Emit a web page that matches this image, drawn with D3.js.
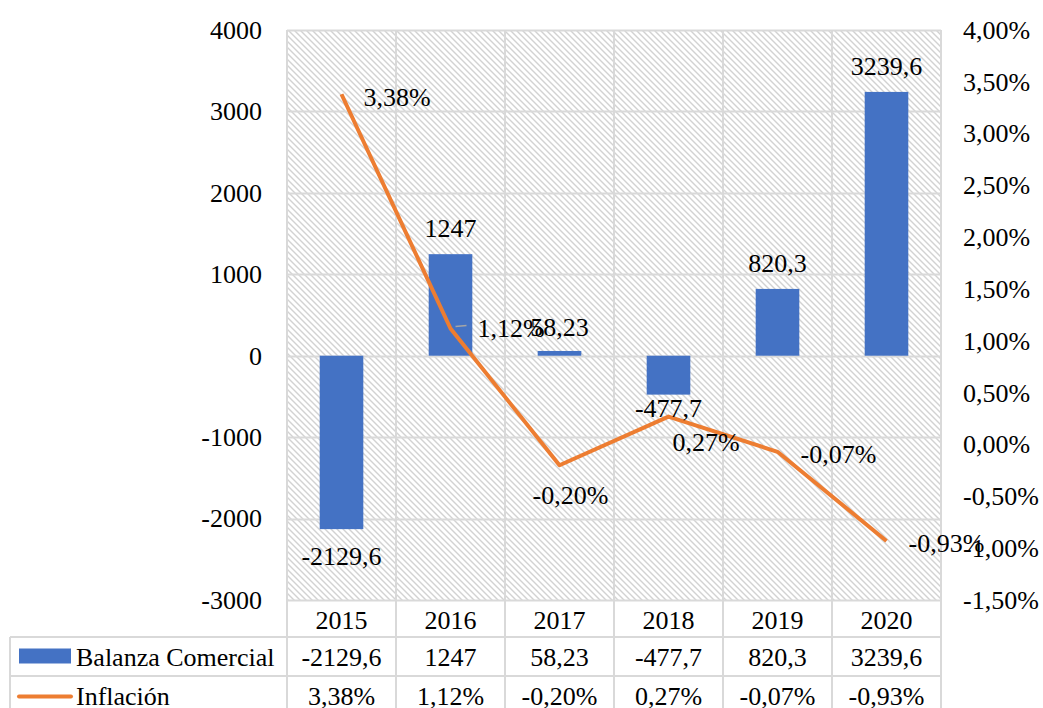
<!DOCTYPE html>
<html>
<head>
<meta charset="utf-8">
<script src="https://cdn.jsdelivr.net/npm/d3@7"></script>
<style>
  html, body { margin: 0; padding: 0; background: #fff; }
  svg { display: block; }
  svg text { font-family: "Liberation Serif", "Times New Roman", serif; fill: #000; }
</style>
</head>
<body>
<svg id="chart" width="1043" height="708"></svg>
<script>
// ---- data ----
const categories = ["2015", "2016", "2017", "2018", "2019", "2020"];
const balanza = [-2129.6, 1247, 58.23, -477.7, 820.3, 3239.6];
const inflacion = [0.0338, 0.0112, -0.0020, 0.0027, -0.0007, -0.0093];
const leftTicks = [-3000, -2000, -1000, 0, 1000, 2000, 3000, 4000];
const rightTicks = [-0.015, -0.01, -0.005, 0, 0.005, 0.01, 0.015, 0.02, 0.025, 0.03, 0.035, 0.04];
const seriesNames = ["Balanza Comercial", "Inflación"];

// ---- layout ----
const W = 1043, H = 708;
const plot = { left: 287, right: 941, top: 30, bottom: 600 };
const tableLeft = 10, headerBottom = 637, rowH = 39;
const barColor = "#4472C4", lineColor = "#ED7D31", gridColor = "#d9d9d9";
const fontSize = 26;
const FONT = "Liberation Serif";

const locale = d3.formatLocale({ decimal: ",", thousands: ".", grouping: [3], currency: ["", ""], minus: "-" });
const fmtPct = locale.format(".2%");
const fmtInt = locale.format("d");
const fmtNum = v => String(v).replace(".", ",");

const svg = d3.select("#chart");

const x = d3.scaleBand().domain(categories).range([plot.left, plot.right]).paddingInner(0).paddingOuter(0);
const yL = d3.scaleLinear().domain([-3000, 4000]).range([plot.bottom, plot.top]);
const yR = d3.scaleLinear().domain([-0.015, 0.04]).range([plot.bottom, plot.top]);

// hatch pattern
const defs = svg.append("defs");
const pat = defs.append("pattern").attr("id", "hatch").attr("patternUnits", "userSpaceOnUse")
  .attr("width", 6).attr("height", 6);
pat.append("rect").attr("width", 6).attr("height", 6).attr("fill", "#fff");
pat.append("path").attr("d", "M0,0 L6,6 M-3,3 L3,9 M3,-3 L9,3")
  .attr("stroke", "#d2d2d2").attr("stroke-width", 1.4);

// plot background
svg.append("rect").attr("x", plot.left).attr("y", plot.top)
  .attr("width", plot.right - plot.left).attr("height", plot.bottom - plot.top)
  .attr("fill", "url(#hatch)");

// gridlines
const g = svg.append("g");
g.selectAll("line.h").data(leftTicks).join("line")
  .attr("x1", plot.left).attr("x2", plot.right)
  .attr("y1", d => Math.round(yL(d)) + 0.5).attr("y2", d => Math.round(yL(d)) + 0.5)
  .attr("stroke", gridColor).attr("stroke-width", 2);
const boundaries = categories.map(c => x(c)).concat([plot.right]);
g.selectAll("line.v").data(boundaries).join("line")
  .attr("x1", d => d).attr("x2", d => d)
  .attr("y1", plot.top).attr("y2", headerBottom + 2 * rowH + 10)
  .attr("stroke", gridColor).attr("stroke-width", 2);

// bars
const bw = x.bandwidth() * 0.4;
svg.selectAll("rect.bar").data(balanza).join("rect")
  .attr("class", "bar")
  .attr("x", (d, i) => x(categories[i]) + x.bandwidth() / 2 - bw / 2)
  .attr("width", bw)
  .attr("y", d => yL(Math.max(0, d)))
  .attr("height", d => Math.abs(yL(d) - yL(0)))
  .attr("fill", barColor);

// line
const cx = i => x(categories[i]) + x.bandwidth() / 2;
svg.append("path").datum(inflacion)
  .attr("d", d3.line().x((d, i) => cx(i)).y(d => yR(d)))
  .attr("fill", "none").attr("stroke", lineColor).attr("stroke-width", 4)
  .attr("stroke-linejoin", "round");

// axes
const axL = svg.append("g").attr("transform", `translate(${plot.left},0)`)
  .call(d3.axisLeft(yL).tickValues(leftTicks).tickSize(0).tickPadding(25).tickFormat(fmtInt));
axL.select(".domain").remove();
axL.attr("font-family", FONT).attr("font-size", fontSize);
axL.selectAll("text").attr("font-size", fontSize).attr("font-family", FONT).attr("fill", "#000");

const axR = svg.append("g").attr("transform", `translate(${plot.right},0)`)
  .call(d3.axisRight(yR).tickValues(rightTicks).tickSize(0).tickPadding(22).tickFormat(fmtPct));
axR.select(".domain").remove();
axR.attr("font-family", FONT).attr("font-size", fontSize);
axR.selectAll("text").attr("font-size", fontSize).attr("font-family", FONT).attr("fill", "#000");

// bar data labels
const barLabelDy = [27, -26, -24, 13, -26, -26];
svg.selectAll("text.bl").data(balanza).join("text")
  .attr("x", (d, i) => cx(i))
  .attr("y", (d, i) => yL(d) + barLabelDy[i])
  .attr("dy", "0.35em").attr("text-anchor", "middle")
  .attr("font-family", FONT).attr("font-size", fontSize).text(d => fmtNum(d));

// leader line for 2016 inflation label
svg.append("line").attr("x1", cx(1) + 5).attr("x2", cx(1) + 16)
  .attr("y1", yR(inflacion[1]) - 2).attr("y2", yR(inflacion[1]) - 3)
  .attr("stroke", "#a6a6a6").attr("stroke-width", 1.5);

// line data labels
const lineLabelDx = [22, 27, -27, 4, 23, 22];
const lineLabelDy = [3, -1, 30, 25, 2, 2];
svg.selectAll("text.ll").data(inflacion).join("text")
  .attr("x", (d, i) => cx(i) + lineLabelDx[i])
  .attr("y", (d, i) => yR(d) + lineLabelDy[i])
  .attr("dy", "0.35em").attr("text-anchor", "start")
  .attr("font-family", FONT).attr("font-size", fontSize).text(d => fmtPct(d));

// data table
const tb = svg.append("g").attr("font-family", FONT).attr("font-size", fontSize);
tb.append("line").attr("x1", tableLeft).attr("x2", plot.right)
  .attr("y1", headerBottom).attr("y2", headerBottom).attr("stroke", gridColor).attr("stroke-width", 2);
tb.append("line").attr("x1", tableLeft).attr("x2", plot.right)
  .attr("y1", headerBottom + rowH).attr("y2", headerBottom + rowH).attr("stroke", gridColor).attr("stroke-width", 2);
tb.append("line").attr("x1", tableLeft).attr("x2", tableLeft)
  .attr("y1", headerBottom).attr("y2", H).attr("stroke", gridColor).attr("stroke-width", 2);

// header categories
tb.selectAll("text.cat").data(categories).join("text")
  .attr("x", d => x(d) + x.bandwidth() / 2).attr("y", (plot.bottom + headerBottom) / 2 + 1)
  .attr("dy", "0.35em").attr("text-anchor", "middle").text(d => d);

// row values
const row1Y = headerBottom + rowH / 2, row2Y = headerBottom + rowH * 1.5;
tb.selectAll("text.r1").data(balanza).join("text")
  .attr("x", (d, i) => cx(i)).attr("y", row1Y)
  .attr("dy", "0.35em").attr("text-anchor", "middle").text(d => fmtNum(d));
tb.selectAll("text.r2").data(inflacion).join("text")
  .attr("x", (d, i) => cx(i)).attr("y", row2Y)
  .attr("dy", "0.35em").attr("text-anchor", "middle").text(d => fmtPct(d));

// legend keys
tb.append("rect").attr("x", 19).attr("y", row1Y - 8).attr("width", 52).attr("height", 15).attr("fill", barColor);
tb.append("line").attr("x1", 19).attr("x2", 71).attr("y1", row2Y + 1).attr("y2", row2Y + 1)
  .attr("stroke", lineColor).attr("stroke-width", 4).attr("stroke-linecap", "round");
tb.append("text").attr("x", 76).attr("y", row1Y).attr("dy", "0.35em").text(seriesNames[0]);
tb.append("text").attr("x", 76).attr("y", row2Y).attr("dy", "0.35em").text(seriesNames[1]);
</script>
</body>
</html>
